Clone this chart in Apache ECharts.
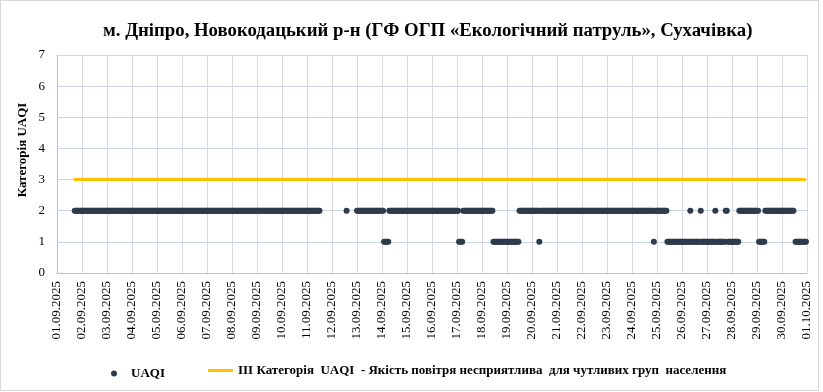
<!DOCTYPE html>
<html>
<head>
<meta charset="utf-8">
<script src="https://cdn.jsdelivr.net/npm/echarts@6/dist/echarts.min.js"></script>
<style>
html,body{margin:0;padding:0;background:#fff;}
#c{width:817px;height:389px;border:1px solid #d9d9d9;}
</style>
</head>
<body>
<div id="c"></div>
<script>
// Tick labels (one per day, x axis measured in hours from 01.09.2025 00:00)
var dateLabels = ['01.09.2025','02.09.2025','03.09.2025','04.09.2025','05.09.2025','06.09.2025','07.09.2025','08.09.2025','09.09.2025','10.09.2025','11.09.2025','12.09.2025','13.09.2025','14.09.2025','15.09.2025','16.09.2025','17.09.2025','18.09.2025','19.09.2025','20.09.2025','21.09.2025','22.09.2025','23.09.2025','24.09.2025','25.09.2025','26.09.2025','27.09.2025','28.09.2025','29.09.2025','30.09.2025','01.10.2025'];

// Hourly UAQI category: [firstHour, lastHour, category]
var uaqiRuns = [
  [17, 252, 2],
  [278, 278, 2],
  [288, 313, 2],
  [314, 318, 1],
  [319, 385, 2],
  [386, 389, 1],
  [390, 418, 2],
  [419, 443, 1],
  [444, 462, 2],
  [463, 463, 1],
  [464, 572, 2],
  [573, 573, 1],
  [574, 585, 2],
  [586, 607, 1],
  [608, 608, 2],
  [609, 617, 1],
  [618, 618, 2],
  [619, 631, 1],
  [632, 632, 2],
  [633, 641, 1],
  [642, 643, 2],
  [644, 654, 1],
  [655, 673, 2],
  [674, 679, 1],
  [680, 707, 2],
  [709, 719, 1]
];

// Threshold: III category, drawn across the measured period
var thresholdValue = 3;
var thresholdHours = [16, 719];

var seriesNames = ['UAQI', 'ІІІ Категорія  UAQI  - Якість повітря несприятлива  для чутливих груп  населення'];

var uaqiData = [];
uaqiRuns.forEach(function (r) {
  for (var h = r[0]; h <= r[1]; h++) uaqiData.push([h, r[2]]);
});
var thresholdData = thresholdHours.map(function (h) { return [h, thresholdValue]; });

var serif = '"Liberation Serif", "Times New Roman", serif';
var chart = echarts.init(document.getElementById('c'), null, {renderer: 'canvas'});
chart.setOption({
  animation: false,
  title: {
    text: 'м. Дніпро, Новокодацький р-н (ГФ ОГП «Екологічний патруль», Сухачівка)',
    left: 97, top: 16,
    textStyle: {fontFamily: serif, fontWeight: 'bold', fontSize: 18.75, color: '#000'}
  },
  graphic: [{
    type: 'text', x: 22, y: 149, rotation: Math.PI / 2,
    style: {text: 'Категорія UAQI', fontFamily: serif, fontWeight: 'bold', fontSize: 13, fill: '#000', align: 'center', verticalAlign: 'middle'}
  }],
  legend: [{
    data: [{name: seriesNames[0], icon: 'circle'}],
    left: 105, top: 361, padding: 5, itemWidth: 24, itemHeight: 6,
    textStyle: {fontFamily: serif, fontWeight: 'bold', fontSize: 13, color: '#000'}
  }, {
    data: [{name: seriesNames[1], icon: 'rect'}],
    left: 202, top: 358, padding: 5, itemWidth: 25, itemHeight: 3,
    textStyle: {fontFamily: serif, fontWeight: 'bold', fontSize: 13, color: '#000'}
  }],
  grid: {left: 56, right: 11, top: 54, bottom: 117},
  xAxis: {
    type: 'value', min: 0, max: 720, interval: 24,
    axisLine: {lineStyle: {color: '#bfbfbf'}},
    axisTick: {show: false},
    splitLine: {show: true, lineStyle: {color: '#d9d9d9', width: 1}},
    axisLabel: {
      rotate: 90, margin: 8, fontFamily: serif, fontSize: 13, color: '#000',
      formatter: function (v) { return dateLabels[Math.round(v / 24)]; }
    }
  },
  yAxis: {
    type: 'value', min: 0, max: 7, interval: 1,
    axisLine: {show: true, lineStyle: {color: '#bfbfbf'}},
    axisTick: {show: false},
    splitLine: {show: true, lineStyle: {color: ['#bfbfbf', '#c9d5ea', '#c9d5ea', '#c9d5ea', '#c9d5ea', '#c9d5ea', '#c9d5ea', '#d9d9d9']}},
    axisLabel: {margin: 12, fontFamily: serif, fontSize: 13, color: '#000'}
  },
  series: [{
    name: seriesNames[1], type: 'line', data: thresholdData, symbol: 'none',
    lineStyle: {color: '#ffc000', width: 3}, itemStyle: {color: '#ffc000'}, z: 2
  }, {
    name: seriesNames[0], type: 'scatter', data: uaqiData, symbol: 'circle', symbolSize: 6,
    itemStyle: {color: '#2f3b4c', opacity: 1}, z: 3
  }]
});
</script>
</body>
</html>
